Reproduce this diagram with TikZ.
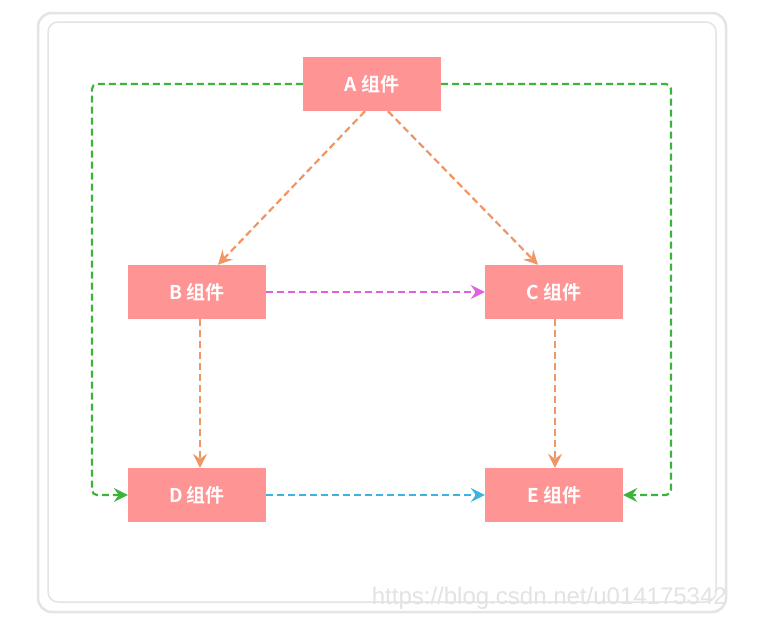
\documentclass[tikz,border=0pt]{standalone}
\usepackage{fontspec}
\newfontfamily\cjk{Noto Sans CJK SC}[BoldFont={* Bold}]
\newfontfamily\wmfont{Liberation Sans}
\usetikzlibrary{arrows.meta}
\definecolor{boxfill}{RGB}{255,148,148}
\definecolor{orangeln}{RGB}{240,150,100}
\definecolor{greenln}{RGB}{60,180,60}
\definecolor{pinkln}{RGB}{225,95,225}
\definecolor{cyanln}{RGB}{60,180,225}
\definecolor{framegray}{RGB}{228,228,228}
\tikzset{
  comp/.style={draw=none, fill=boxfill, minimum width=138pt, minimum height=54pt,
    inner sep=0pt, text=white, font=\cjk\bfseries\fontsize{19}{22}\selectfont},
  conn/.style={line width=2.2pt, dash pattern=on 7pt off 4pt,
    -{Stealth[length=14pt,width=14pt,inset=5pt]}},
}
\begin{document}
\begin{tikzpicture}[x=1pt,y=-1pt]
\useasboundingbox (0,0) rectangle (771,627);
\fill[white] (0,0) rectangle (771,627);
\draw[framegray, line width=2.5pt, rounded corners=14pt] (38,13) rectangle (726,612);
\draw[framegray, line width=1.5pt, rounded corners=10pt] (48,22) rectangle (716,602);
\node[comp] (A) at (372,84) {A 组件};
\node[comp] (B) at (197,292) {B 组件};
\node[comp] (C) at (554,292) {C 组件};
\node[comp] (D) at (197,495) {D 组件};
\node[comp] (E) at (554,495) {E 组件};
\coordinate (ab) at ([xshift=-7pt]A.south);
\coordinate (ac) at ([xshift=16pt]A.south);
\draw[conn, orangeln] (ab) -- ([xshift=21pt]B.north);
\draw[conn, orangeln] (ac) -- ([xshift=-16pt]C.north);
\draw[conn, pinkln] (B.east) -- (C.west);
\draw[conn, orangeln] ([xshift=3pt]B.south) -- ([xshift=3pt]D.north);
\draw[conn, orangeln] ([xshift=1pt]C.south) -- ([xshift=1pt]E.north);
\draw[conn, cyanln] (D.east) -- (E.west);
\draw[conn, greenln, rounded corners=5pt] (A.west) -| (92,495) -- (D.west);
\draw[conn, greenln, rounded corners=5pt] (A.east) -| (671,495) -- (E.east);
\node[text=gray!22, font=\wmfont\fontsize{24}{27}\selectfont, anchor=east, inner sep=0pt] (wm) at (727,598) {https://blog.csdn.net/u014175342};
\end{tikzpicture}
\end{document}
